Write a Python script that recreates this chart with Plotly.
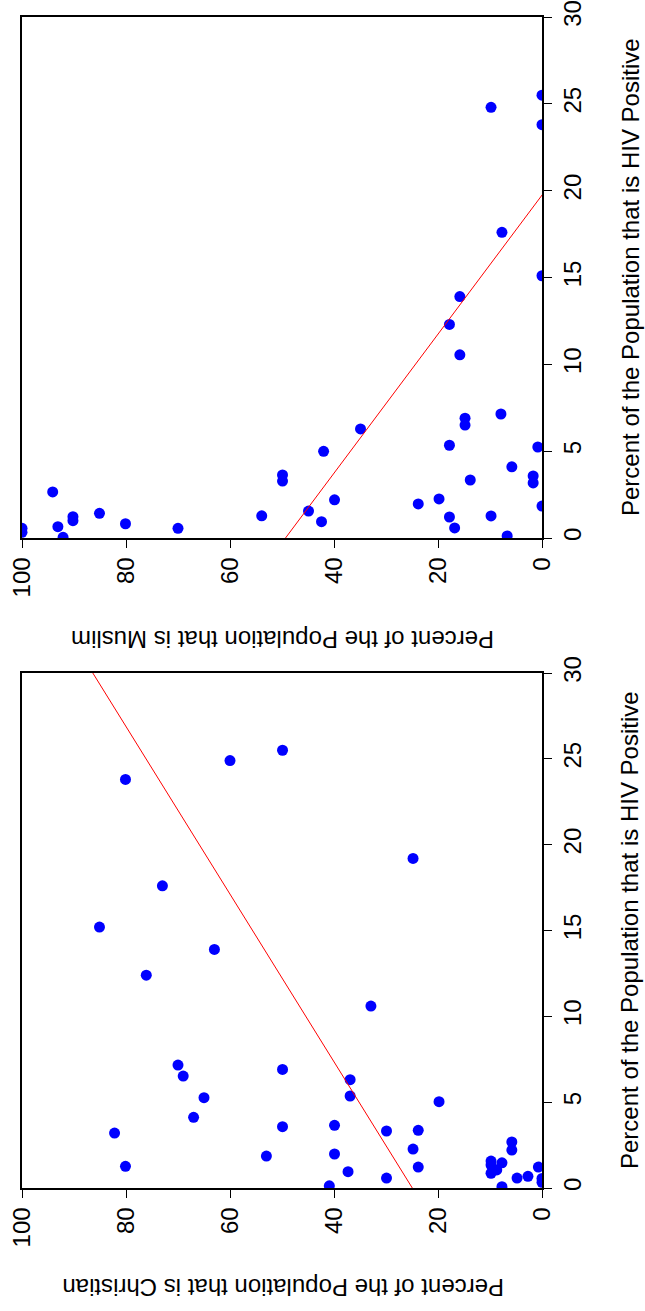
import numpy as np
import plotly.graph_objects as go

# Christian panel (HIV %, Christian %)
hiv_christian = [25.5, 24.9, 23.8, 19.2, 17.6, 15.2, 13.9, 12.4, 10.6, 7.16, 6.91, 6.52, 6.31,
                 5.36, 5.26, 5.03, 4.12, 3.65, 3.57, 3.36, 3.32, 3.20, 2.68, 2.27, 2.21, 1.98,
                 1.86, 1.57, 1.47, 1.34, 1.26, 1.22, 1.22, 1.05, 0.95, 0.86, 0.68, 0.58, 0.58,
                 0.56, 0.33, 0.13, 0.08]
christian = [49.9, 60.0, 80.1, 24.8, 73.0, 85.1, 63.0, 76.1, 32.9, 70.0, 49.9, 69.0, 36.9,
             36.9, 65.0, 19.8, 67.0, 39.9, 49.9, 23.8, 29.9, 82.2, 5.8, 24.8, 5.8, 39.9,
             53.0, 9.8, 7.7, 9.8, 80.1, 23.8, 0.7, 8.7, 37.3, 9.8, 2.7, 29.9, 4.8,
             0.0, 0.0, 40.9, 7.7]

# Muslim panel (HIV %, Muslim %)
hiv_muslim = [25.5, 24.8, 23.8, 17.6, 15.1, 13.9, 12.3, 10.55, 7.14, 6.9, 6.5, 6.28, 5.34,
              5.24, 4.99, 4.1, 3.63, 3.57, 3.34, 3.28, 3.17, 2.65, 2.25, 2.2, 1.96, 1.84,
              1.55, 1.42, 1.28, 1.27, 1.23, 1.21, 1.0, 0.94, 0.82, 0.65, 0.58, 0.56, 0.56,
              0.33, 0.12, 0.04]
muslim = [0.0, 9.8, 0.0, 7.7, 0.0, 15.8, 17.8, 15.8, 7.9, 14.8, 14.8, 34.9, 17.8,
          0.8, 42.0, 5.8, 49.9, 1.7, 13.8, 49.9, 1.7, 94.1, 19.8, 39.9, 23.8, 0.0,
          44.9, 85.1, 53.9, 9.8, 90.2, 17.8, 90.2, 42.4, 80.1, 93.1, 16.8, 70.0, 100.0,
          100.0, 6.7, 92.1]

pct_ticks = [0, 20, 40, 60, 80, 100]
hiv_ticks = [0, 5, 10, 15, 20, 25, 30]
pct_title_c = "Percent of the Population that is Christian"
pct_title_m = "Percent of the Population that is Muslim"
hiv_title = "Percent of the Population that is HIV Positive"

FONT = "Liberation Sans, Arial, sans-serif"
W, H = 645, 1311
ML, MR, MT, MB = 22, 103, 17, 123
PW = W - ML - MR
PH = H - MT - MB

def py(p):
    return (H - MB - p) / PH

def px(p):
    return (p - ML) / PW

fig = go.Figure()

hiv_line = np.array([0.0, 30.0])
panels = [
    (hiv_muslim, muslim, "x", "y"),
    (hiv_christian, christian, "x2", "y2"),
]
for hv, pc, xa, ya in panels:
    b, a = np.polyfit(np.array(hv), np.array(pc), 1)
    fig.add_trace(go.Scatter(x=pc, y=hv, mode="markers", xaxis=xa, yaxis=ya,
                             marker=dict(color="#0000FF", size=11, line=dict(width=0)),
                             showlegend=False))
    fig.add_trace(go.Scatter(x=a + b * hiv_line, y=hiv_line, mode="lines", xaxis=xa, yaxis=ya,
                             line=dict(color="#FF0000", width=1), showlegend=False))

xcommon = dict(range=[100, 0], tickvals=pct_ticks, tickangle=-90, ticks="outside", ticklen=8,
               tickwidth=1, tickcolor="black", showline=True, linecolor="black", linewidth=1.5,
               mirror=True, showgrid=False, zeroline=False, automargin=False,
               ticklabeloverflow="allow",
               tickfont=dict(family=FONT, size=24, color="black"))
ycommon = dict(range=[0, 30], tickvals=hiv_ticks, tickangle=-90, ticks="outside", ticklen=8,
               tickwidth=1, tickcolor="black", showline=True, linecolor="black", linewidth=1.5,
               mirror=True, showgrid=False, zeroline=False, side="right", automargin=False,
               ticklabeloverflow="allow",
               tickfont=dict(family=FONT, size=24, color="black"))

top_dom = [py(538), 1.0]
bot_dom = [0.0, py(673)]

fig.update_layout(
    width=W, height=H,
    margin=dict(l=ML, r=MR, t=MT, b=MB, autoexpand=False),
    paper_bgcolor="white", plot_bgcolor="white",
    xaxis=dict(domain=[0, 1], anchor="y", **xcommon),
    yaxis=dict(domain=top_dom, anchor="x", **ycommon),
    xaxis2=dict(domain=[0, 1], anchor="y2", **xcommon),
    yaxis2=dict(domain=bot_dom, anchor="x2", **ycommon),
    annotations=[
        dict(text=hiv_title, xref="paper", yref="paper", x=px(630), y=py(277),
             xanchor="center", yanchor="middle", textangle=-90, showarrow=False,
             font=dict(family=FONT, size=24, color="black")),
        dict(text=hiv_title, xref="paper", yref="paper", x=px(630), y=py(930),
             xanchor="center", yanchor="middle", textangle=-90, showarrow=False,
             font=dict(family=FONT, size=24, color="black")),
        dict(text=pct_title_m, xref="paper", yref="paper", x=px(283), y=py(640),
             xanchor="center", yanchor="middle", textangle=180, showarrow=False,
             font=dict(family=FONT, size=24, color="black")),
        dict(text=pct_title_c, xref="paper", yref="paper", x=px(283), y=py(1288),
             xanchor="center", yanchor="middle", textangle=180, showarrow=False,
             font=dict(family=FONT, size=24, color="black")),
    ],
)

fig.write_html("out.html", config={"displayModeBar": False},
               post_script="document.body.style.margin='0';")
